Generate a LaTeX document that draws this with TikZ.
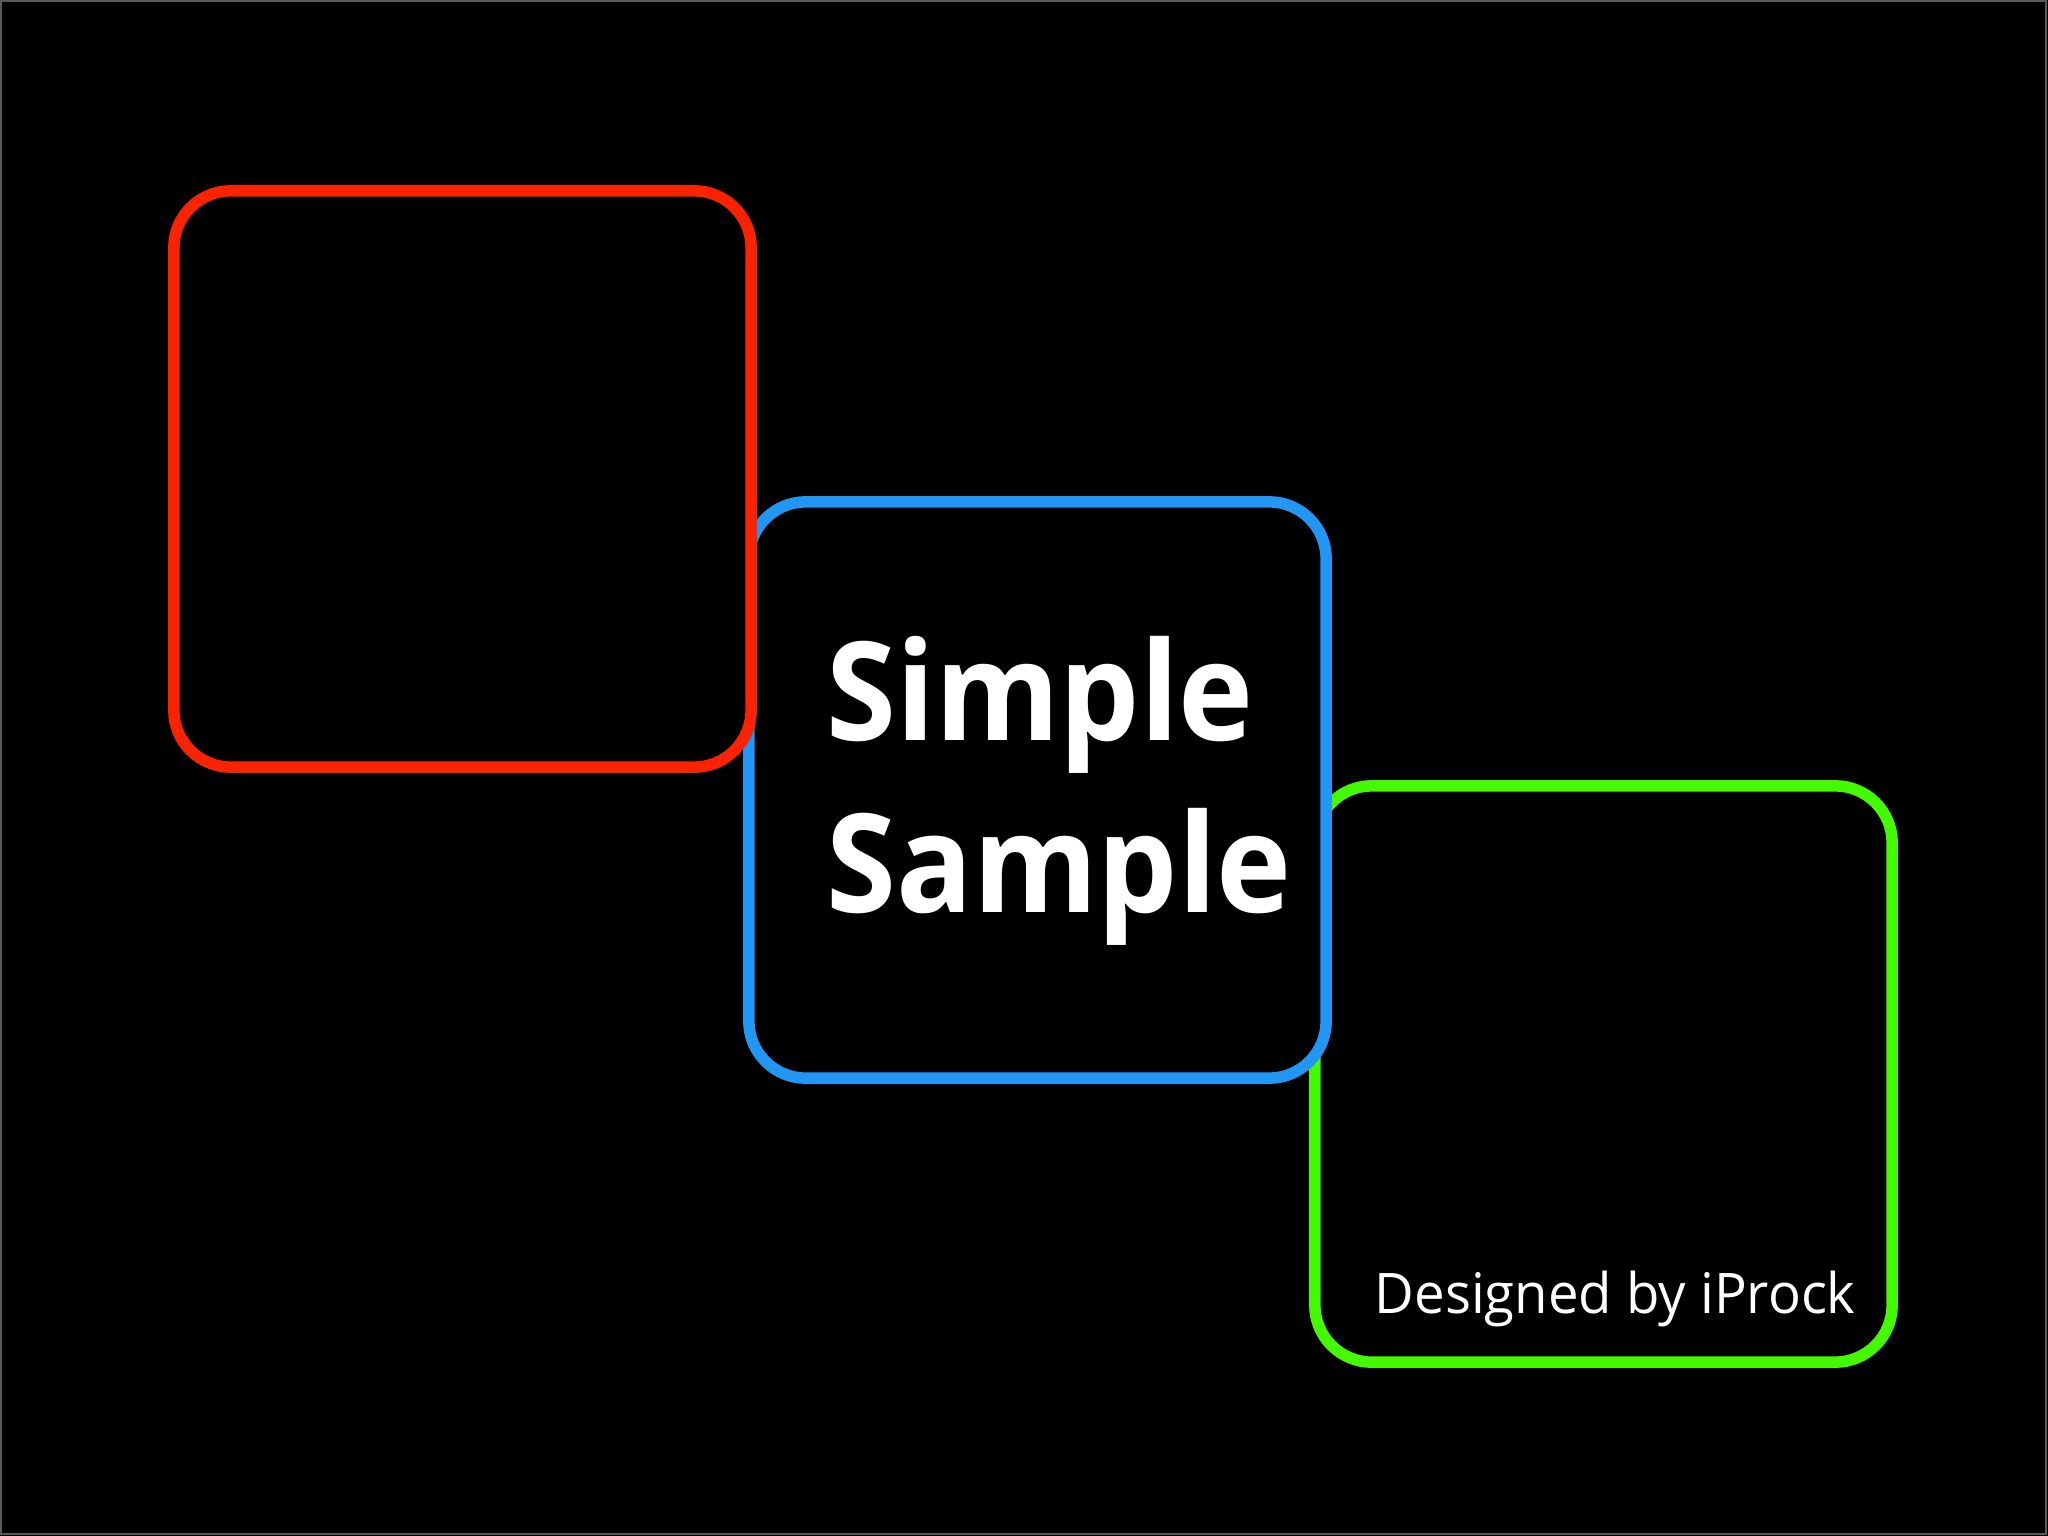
\documentclass[tikz,border=0pt]{standalone}
\usepackage{fontspec}
\setmainfont{Open Sans}
\newfontfamily\titlefont{Open Sans}[FakeStretch=0.925]
\newfontfamily\creditfont{Open Sans}[FakeStretch=0.975]
\usepackage{tikz}
\usetikzlibrary{positioning}

\definecolor{boxred}{RGB}{250,35,0}
\definecolor{boxblue}{RGB}{33,150,243}
\definecolor{boxgreen}{RGB}{68,250,0}

\tikzset{
  panel/.style={draw=#1, fill=black, line width=0.115cm, rounded corners=0.57cm,
    minimum width=5.77cm, minimum height=5.76cm, inner sep=0pt},
  title/.style={text=white, anchor=base west, inner sep=0pt, font=\titlefont\fontsize{39}{39}\selectfont\bfseries},
  credit/.style={text=white, anchor=base west, inner sep=0pt, font=\creditfont\fontsize{15.9}{16}\selectfont}
}

\begin{document}
\begin{tikzpicture}[x=0.01cm, y=-0.01cm]
  % Background and frame
  \fill[black] (0,0) rectangle (2048,1536);
  \useasboundingbox (0,0) rectangle (2048,1536);
  \draw[black!65, line width=0.015cm] (1,1) rectangle (2046,1534);

  % Three panels, later ones on top
  \node[panel=boxgreen] (green) at (1603.5,1074) {};
  \node[panel=boxblue] (blue) at (1037.5,790) {};
  \node[panel=boxred] (red) at (462.5,479) {};

  % Title in the middle panel
  \node[title] (simple) at (826,740) {Simple};
  \node[title] (sample) at (826,912) {Sample};

  % Credit in the last panel
  \node[credit] (credit) at (1374,1313) {Designed by iProck};
\end{tikzpicture}
\end{document}
